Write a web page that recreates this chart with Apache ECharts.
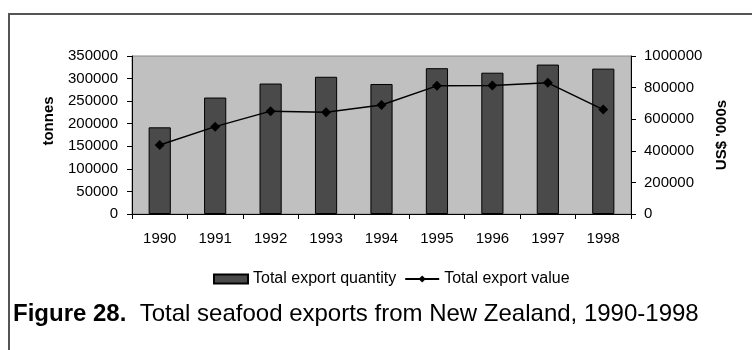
<!DOCTYPE html>
<html>
<head>
<meta charset="utf-8">
<script src="https://cdn.jsdelivr.net/npm/echarts@6/dist/echarts.min.js"></script>
<style>
    html, body {margin: 0; padding: 0; background: #fff;}
    #chart {width: 752px; height: 350px;}
</style>
</head>
<body>
<div id="chart"></div>
<script>
    const years = ['1990', '1991', '1992', '1993', '1994', '1995', '1996', '1997', '1998'];
    // tonnes
    const exportQuantity = [192000, 258000, 289000, 304000, 288000, 323000, 313000, 331000, 322000];
    // US$ '000s
    const exportValue = [437000, 553000, 651000, 644000, 690000, 811000, 813000, 830000, 661000];

    const font = 'Liberation Sans';

    const myChart = echarts.init(document.getElementById('chart'));

    // plain numbers, no thousands separator
    const plain = (v) => String(v);

    const option = {
        animation: false,
        textStyle: {fontFamily: font},
        grid: {
            left: 132,
            right: 121,
            top: 56,
            bottom: 136,
            show: true,
            backgroundColor: '#c0c0c0',
            borderColor: '#888',
            borderWidth: 1
        },
        legend: {
            left: 208,
            top: 266,
            itemWidth: 34,
            itemHeight: 9,
            itemGap: 8,
            textStyle: {fontSize: 16, color: '#000', fontFamily: font},
            data: [
                {name: 'Total export quantity', icon: 'rect'},
                {name: 'Total export value'}
            ]
        },
        xAxis: {
            type: 'category',
            data: years,
            axisLine: {lineStyle: {color: '#000', width: 1}},
            axisTick: {show: true, length: 5, lineStyle: {color: '#000'}},
            axisLabel: {color: '#000', fontSize: 15, margin: 17}
        },
        yAxis: [
            {
                type: 'value',
                min: 0,
                max: 350000,
                interval: 50000,
                axisLine: {show: true, lineStyle: {color: '#000'}},
                axisTick: {show: true, length: 5, lineStyle: {color: '#000'}},
                axisLabel: {color: '#000', fontSize: 15, margin: 14, formatter: plain},
                splitLine: {show: false}
            },
            {
                type: 'value',
                min: 0,
                max: 1000000,
                interval: 200000,
                position: 'right',
                axisLine: {show: true, lineStyle: {color: '#000'}},
                axisTick: {show: true, length: 5, lineStyle: {color: '#000'}},
                axisLabel: {color: '#000', fontSize: 15, margin: 13, formatter: plain},
                splitLine: {show: false}
            }
        ],
        series: [
            {
                name: 'Total export quantity',
                type: 'bar',
                barWidth: '40%',
                data: exportQuantity,
                itemStyle: {color: '#4a4a4a', borderColor: '#000', borderWidth: 1}
            },
            {
                name: 'Total export value',
                type: 'line',
                yAxisIndex: 1,
                data: exportValue,
                symbol: 'diamond',
                symbolSize: 10,
                lineStyle: {color: '#000', width: 1.5},
                itemStyle: {color: '#000'}
            }
        ],
        graphic: [
            {
                type: 'polyline',
                shape: {points: [[9, 350], [9, 14], [752, 14]]},
                style: {stroke: '#555', lineWidth: 2, fill: null}
            },
            {
                type: 'text',
                x: 49,
                y: 121,
                rotation: Math.PI / 2,
                style: {
                    text: 'tonnes',
                    font: 'bold 15px "Liberation Sans"',
                    fill: '#000',
                    align: 'center',
                    verticalAlign: 'middle'
                }
            },
            {
                type: 'text',
                x: 722,
                y: 135,
                rotation: Math.PI / 2,
                style: {
                    text: "US$ '000s",
                    font: 'bold 15px "Liberation Sans"',
                    fill: '#000',
                    align: 'center',
                    verticalAlign: 'middle'
                }
            },
            {
                type: 'text',
                x: 13,
                y: 314,
                style: {
                    text: '{b|Figure 28.}  Total seafood exports from New Zealand, 1990-1998',
                    font: '24px "Liberation Sans"',
                    fill: '#000',
                    verticalAlign: 'middle',
                    rich: {
                        b: {fontWeight: 'bold', fontSize: 24, fontFamily: font, fill: '#000'}
                    }
                }
            }
        ]
    };

    myChart.setOption(option);
</script>
</body>
</html>
